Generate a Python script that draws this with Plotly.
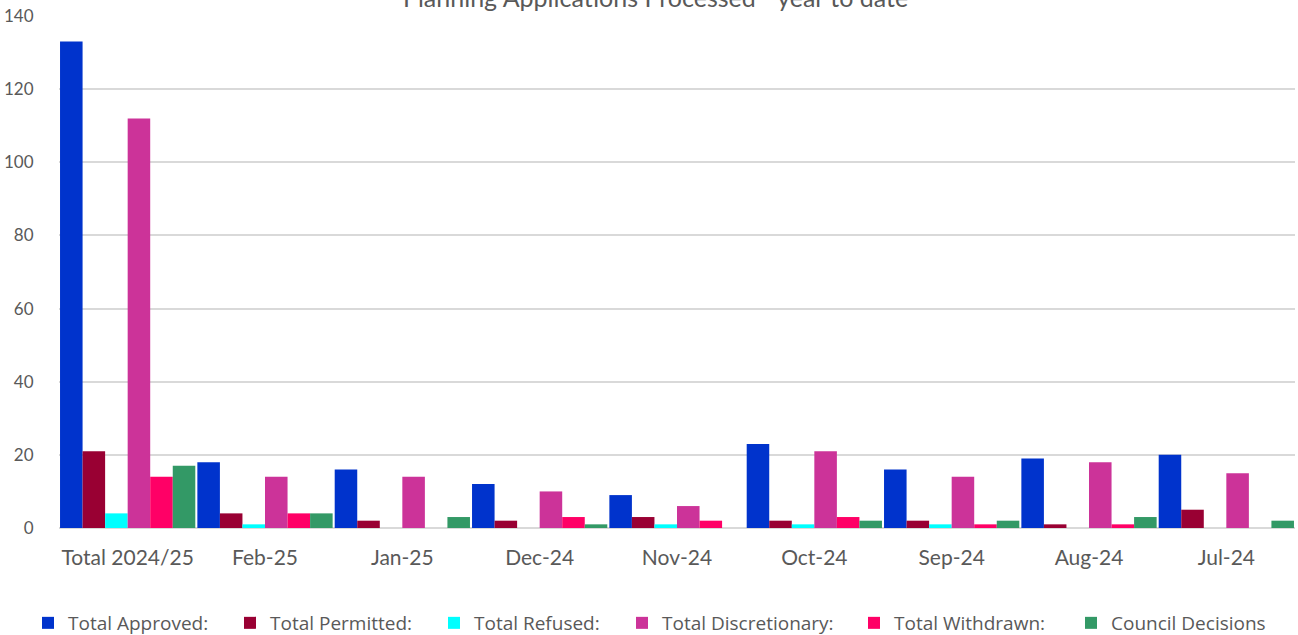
import plotly.graph_objects as go

categories = ["Total 2024/25", "Feb-25", "Jan-25", "Dec-24", "Nov-24", "Oct-24", "Sep-24", "Aug-24", "Jul-24"]
total_approved = [133, 18, 16, 12, 9, 23, 16, 19, 20]
total_permitted = [21, 4, 2, 2, 3, 2, 2, 1, 5]
total_refused = [4, 1, 0, 0, 1, 1, 1, 0, 0]
total_discretionary = [112, 14, 14, 10, 6, 21, 14, 18, 15]
total_withdrawn = [14, 4, 0, 3, 2, 3, 1, 1, 0]
council_decisions = [17, 4, 3, 1, 0, 2, 2, 3, 2]

series_names = ["Total Approved:", "Total Permitted:", "Total Refused:",
                "Total Discretionary:", "Total Withdrawn:", "Council Decisions"]
series_values = [total_approved, total_permitted, total_refused,
                 total_discretionary, total_withdrawn, council_decisions]
series_colors = ["#0033CC", "#990033", "#00FFFF", "#CC3399", "#FF0066", "#339966"]

legend_text_px = [63, 265, 469, 657, 889, 1106]  # page pixels of legend text starts

W, H = 1298, 635
ML, MR, MT, MB = 59, 3, 16, 107
PW = W - ML - MR
PH = H - MT - MB

fig = go.Figure()
layout_legends = {}
for i, (name, vals, col) in enumerate(zip(series_names, series_values, series_colors)):
    lg = "legend" if i == 0 else f"legend{i+1}"
    fig.add_trace(go.Bar(x=categories, y=vals, name=name, legend=lg,
                         marker=dict(color=col, line=dict(width=0))))
    xpx = legend_text_px[i] + 5 - 40 - ML
    layout_legends[lg] = dict(
        x=xpx / PW, xanchor="left", y=(MT + PH - 623) / PH, yanchor="middle",
        orientation="h", bgcolor="rgba(0,0,0,0)", borderwidth=0,
        font=dict(family="Open Sans, sans-serif", size=19, color="#595959"),
    )

fig.update_layout(
    width=W, height=H,
    barmode="group", bargap=0.015, bargroupgap=0,
    plot_bgcolor="white", paper_bgcolor="white",
    margin=dict(l=ML, r=MR, t=MT, b=MB, autoexpand=False),
    font=dict(family="Lato, Open Sans, sans-serif", color="#595959", size=18),
    showlegend=True,
    **layout_legends,
)
fig.add_annotation(text="Planning Applications Processed - year to date",
                   xref="paper", yref="paper", x=(655 - ML) / PW, y=1.0,
                   xanchor="center", yanchor="bottom", yshift=2, showarrow=False,
                   font=dict(size=25, color="#595959", family="Lato, Open Sans, sans-serif"))
fig.update_yaxes(range=[0, 140], dtick=20, showgrid=True, gridcolor="#D9D9D9", gridwidth=1.5,
                 zeroline=True, zerolinecolor="#D9D9D9", zerolinewidth=2,
                 ticks="outside", ticklen=0, ticklabelstandoff=21, automargin=False,
                 tickfont=dict(size=17, color="#595959"))
fig.update_xaxes(showline=False, ticks="", ticklabelstandoff=15, automargin=False,
                 tickfont=dict(size=21, color="#595959"))

fig.write_html("out.html", config={"displayModeBar": False},
               post_script="document.body.style.margin='0px';")
